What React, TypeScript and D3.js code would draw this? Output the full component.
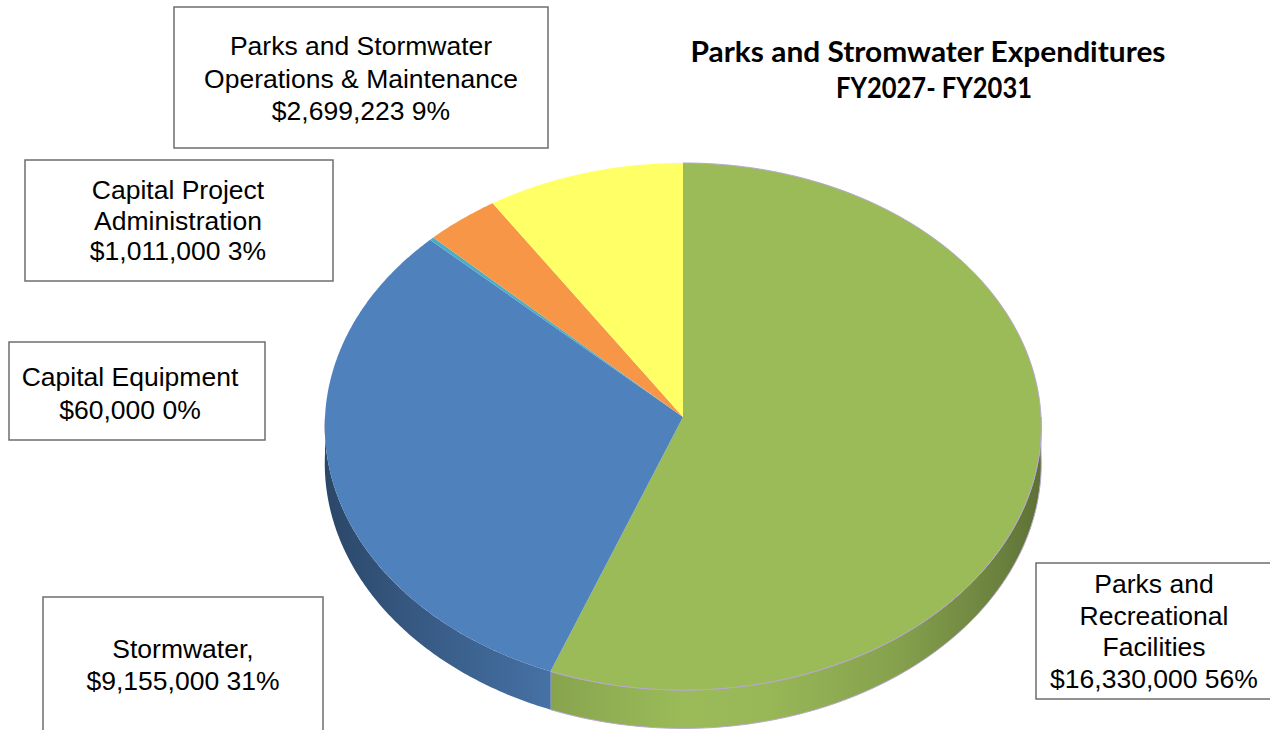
import React from "react";
import * as d3 from "d3";

const categories = [
  "Parks and Recreational Facilities",
  "Stormwater",
  "Capital Equipment",
  "Capital Project Administration",
  "Parks and Stormwater Operations & Maintenance",
];
const values = [16330000, 9155000, 60000, 1011000, 2699223];
const percentLabels = ["56%", "31%", "0%", "3%", "9%"];
const labelLines = [
  ["Parks and", "Recreational", "Facilities", "$16,330,000 56%"],
  ["Stormwater,", "$9,155,000 31%"],
  ["Capital Equipment", "$60,000 0%"],
  ["Capital Project", "Administration", "$1,011,000 3%"],
  ["Parks and Stormwater", "Operations & Maintenance", "$2,699,223 9%"],
];
const titleLines = ["Parks and Stromwater Expenditures", "FY2027- FY2031"];

const colors = ["#9bbb59", "#4f81bd", "#4bacc6", "#f79646", "#ffff66"];

// label box layout: [x, y, w, h, textCenterX, firstBaseline, lineStep]
const boxes: number[][] = [
  [1036, 563, 236, 136, 1154, 593, 31.7],
  [43, 597, 280, 135, 183, 658, 31.5],
  [9, 342, 256, 98, 130, 385.5, 33],
  [25, 160, 308, 121, 178, 199, 30.7],
  [174, 7, 374, 141, 361, 55, 32.5],
];

const PX = 683;
const PY = 417;
const A = 358;
const B = 263.2;
const K = 0.036;
const DEPTH = 37;

function proj(theta: number, drop = 0): [number, number] {
  const u = Math.sin(theta);
  const v = -Math.cos(theta);
  const w = 1 - K * v;
  return [PX + (A * u) / w, PY + (B * v) / w + drop / w];
}

function arcPts(a0: number, a1: number, drop = 0): [number, number][] {
  const n = Math.max(2, Math.ceil(Math.abs(a1 - a0) / 0.01));
  const pts: [number, number][] = [];
  for (let i = 0; i <= n; i++) pts.push(proj(a0 + ((a1 - a0) * i) / n, drop));
  return pts;
}

const line = d3.line();

function shade(hex: string, f: number) {
  const c = d3.rgb(hex);
  return d3.rgb(c.r * f, c.g * f, c.b * f).formatHex();
}

const shadeStops = [
  [0, 0.55],
  [0.12, 0.68],
  [0.32, 0.88],
  [0.5, 1.0],
  [0.62, 0.98],
  [0.8, 0.86],
  [0.95, 0.68],
  [1, 0.6],
];

export default function App() {
  const pie = d3
    .pie<number>()
    .sort(null)
    .value((d) => d)
    .startAngle(0)
    .endAngle(2 * Math.PI);
  const arcs = pie(values);

  const lo = Math.PI / 2;
  const hi = (3 * Math.PI) / 2;

  return (
    <svg
      width={1270}
      height={730}
      style={{ position: "absolute", left: 0, top: 0, background: "#fff" }}
      fontFamily="'Liberation Sans', Arial, sans-serif"
    >
      <defs>
        {colors.map((c, i) => (
          <linearGradient
            key={i}
            id={`side-${i}`}
            gradientUnits="userSpaceOnUse"
            x1={PX - A}
            x2={PX + A}
            y1={0}
            y2={0}
          >
            {shadeStops.map(([o, f], j) => (
              <stop key={j} offset={o} stopColor={shade(c, f)} />
            ))}
          </linearGradient>
        ))}
      </defs>

      {/* side walls */}
      {arcs.map((a, i) => {
        const s = Math.max(a.startAngle, lo);
        const e = Math.min(a.endAngle, hi);
        if (e <= s) return null;
        const top = arcPts(s, e);
        const bot = arcPts(e, s, DEPTH);
        const d = line([...top, ...bot]) + "Z";
        return (
          <path
            key={`s${i}`}
            d={d}
            fill={`url(#side-${i})`}
            stroke={i === 0 ? "#b7a8cf" : "none"}
            strokeWidth={1}
          />
        );
      })}

      {/* top faces */}
      {arcs.map((a, i) => {
        const d =
          "M" + PX + "," + PY + "L" + line(arcPts(a.startAngle, a.endAngle))!.slice(1) + "Z";
        return <path key={`t${i}`} d={d} fill={colors[i]} stroke="none" />;
      })}
      {/* lavender rim on the green slice */}
      <path
        d={line(arcPts(arcs[0].startAngle, arcs[0].endAngle))!}
        fill="none"
        stroke="#b7a8cf"
        strokeWidth={1}
      />

      {/* title */}
      <g fontFamily="Lato, 'Open Sans', sans-serif" fontWeight="bold" fontSize={29} fill="#000">
        <text x={928} y={62} textAnchor="middle" textLength={475} lengthAdjust="spacingAndGlyphs">
          {titleLines[0]}
        </text>
        <text x={934} y={98} textAnchor="middle" textLength={196} lengthAdjust="spacingAndGlyphs">
          {titleLines[1]}
        </text>
      </g>

      {/* label boxes */}
      {boxes.map((b, i) => {
        const [x, y, w, h, tx, by, step] = b;
        return (
          <g key={`b${i}`}>
            <rect x={x} y={y} width={w} height={h} fill="#fff" stroke="#6e6e6e" strokeWidth={1.5} />
            {labelLines[i].map((t, j) => (
              <text key={j} x={tx} y={by + j * step} textAnchor="middle" fontSize={26.5} fill="#000">
                {t}
              </text>
            ))}
          </g>
        );
      })}
      <desc>{categories.join(", ") + " " + percentLabels.join(", ")}</desc>
    </svg>
  );
}
